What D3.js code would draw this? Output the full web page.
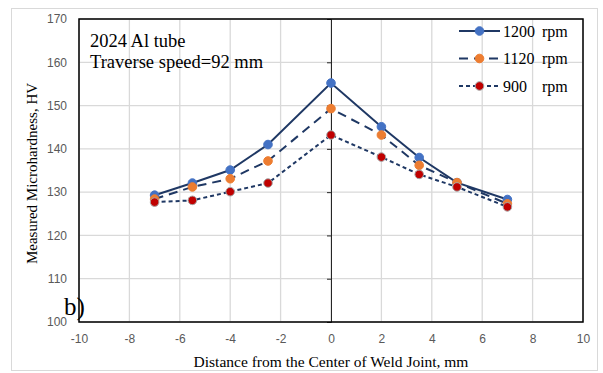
<!DOCTYPE html>
<html>
<head>
<meta charset="utf-8">
<script src="https://cdn.jsdelivr.net/npm/d3@7"></script>
<style>
  body { margin: 0; background: #fff; }
  svg { display: block; }
</style>
</head>
<body>
<svg id="chart"></svg>
<script>
'use strict';

// distance from weld centre, mm
var positions = [-7, -5.5, -4, -2.5, 0, 2, 3.5, 5, 7];

var hv1200 = [129.3, 132.1, 135.1, 141, 155.2, 145.1, 138, 132.2, 128.3];
var hv1120 = [128.4, 131.2, 133.1, 137.2, 149.3, 143.2, 136.2, 132.2, 127.3];
var hv900  = [127.7, 128.1, 130.1, 132.1, 143.2, 138.1, 134.1, 131.2, 126.6];

var speeds = ['1200', '1120', '900'];
var xTicks = [-10, -8, -6, -4, -2, 0, 2, 4, 6, 8, 10];
var yTicks = [100, 110, 120, 130, 140, 150, 160, 170];

var svgWidth = 603,
    svgHeight = 373;
var margin = { top: 19, right: 20, bottom: 51, left: 79 };
var width = svgWidth - margin.left - margin.right;
var height = svgHeight - margin.top - margin.bottom;

var serif = 'Liberation Serif, Times New Roman, serif';

var svg = d3.select('#chart')
    .attr('width', svgWidth)
    .attr('height', svgHeight);

// outer chart frame
svg.append('rect')
    .attr('x', 11.5).attr('y', 8.5)
    .attr('width', 586).attr('height', 362)
    .attr('fill', 'none')
    .attr('stroke', '#d9d9d9');

var g = svg.append('g')
    .attr('transform', 'translate(' + margin.left + ',' + margin.top + ')');

var x = d3.scaleLinear().domain([-10, 10]).range([0, width]);
var y = d3.scaleLinear().domain([100, 170]).range([height, 0]);

// grid
g.append('g')
    .selectAll('line')
    .data(xTicks)
    .join('line')
    .attr('x1', function (d) { return x(d) })
    .attr('x2', function (d) { return x(d) })
    .attr('y1', 0).attr('y2', height)
    .attr('stroke', '#d9d9d9').attr('stroke-width', 1.3);

g.append('g')
    .selectAll('line')
    .data(yTicks)
    .join('line')
    .attr('x1', 0).attr('x2', width)
    .attr('y1', function (d) { return y(d) })
    .attr('y2', function (d) { return y(d) })
    .attr('stroke', '#d9d9d9').attr('stroke-width', 1.3);

// axes with labels (plain hyphen for negatives, like the original)
var fmt = function (d) { return String(d) };
var xAxis = g.append('g')
    .attr('transform', 'translate(0,' + height + ')')
    .call(d3.axisBottom(x).tickValues(xTicks).tickSize(0).tickPadding(12).tickFormat(fmt));
var yAxis = g.append('g')
    .call(d3.axisLeft(y).tickValues(yTicks).tickSize(0).tickPadding(12).tickFormat(fmt));

[xAxis, yAxis].forEach(function (a) {
    a.select('.domain').remove();
    a.selectAll('text')
        .attr('font-family', 'Liberation Sans, Arial, sans-serif')
        .attr('font-size', 12)
        .attr('fill', '#595959');
});

// vertical axis crossing at x = 0
var mid = g.append('g')
    .attr('transform', 'translate(' + x(0) + ',0)')
    .call(d3.axisLeft(y).tickValues(yTicks).tickSize(4).tickFormat(''));
mid.select('.domain').attr('stroke', '#262626');
mid.selectAll('line').attr('stroke', '#262626');

// plot box
g.append('rect')
    .attr('x', 0).attr('y', 0)
    .attr('width', width).attr('height', height)
    .attr('fill', 'none')
    .attr('stroke', '#000')
    .attr('stroke-width', 1.5);

var series = [
    { name: speeds[0], values: hv1200, dash: null, fill: '#4472c4', stroke: '#4472c4' },
    { name: speeds[1], values: hv1120, dash: '9,6', fill: '#ed7d31', stroke: '#ed7d31' },
    { name: speeds[2], values: hv900, dash: '4,3', fill: '#c00000', stroke: '#a6a6a6' }
];

var line = d3.line()
    .x(function (d) { return x(d[0]) })
    .y(function (d) { return y(d[1]) });

series.forEach(function (s) {
    var pts = d3.zip(positions, s.values);
    g.append('path')
        .datum(pts)
        .attr('fill', 'none')
        .attr('stroke', '#1f3864')
        .attr('stroke-width', 2)
        .attr('stroke-dasharray', s.dash)
        .attr('d', line);
    g.append('g')
        .selectAll('circle')
        .data(pts)
        .join('circle')
        .attr('cx', function (d) { return x(d[0]) })
        .attr('cy', function (d) { return y(d[1]) })
        .attr('r', 4.3)
        .attr('fill', s.fill)
        .attr('stroke', s.stroke)
        .attr('stroke-width', 1);
});

// legend
var legend = svg.append('g')
    .attr('transform', 'translate(459,31)');
series.forEach(function (s, i) {
    var row = legend.append('g').attr('transform', 'translate(0,' + (i * 27.5) + ')');
    row.append('line')
        .attr('x1', 0).attr('x2', 41)
        .attr('stroke', '#1f3864')
        .attr('stroke-width', 2)
        .attr('stroke-dasharray', s.dash);
    row.append('circle')
        .attr('cx', 20.5).attr('cy', 0).attr('r', 4.3)
        .attr('fill', s.fill)
        .attr('stroke', s.stroke);
    var t = row.append('text')
        .attr('y', 5.5)
        .attr('font-family', serif)
        .attr('font-size', 16)
        .attr('fill', '#000');
    t.append('tspan').attr('x', 44).text(s.name);
    t.append('tspan').attr('x', 83).text('rpm');
});

// annotations
svg.append('text').attr('x', 90).attr('y', 47)
    .attr('font-family', serif).attr('font-size', 18.5).text('2024 Al tube');
svg.append('text').attr('x', 90).attr('y', 68)
    .attr('font-family', serif).attr('font-size', 18.5).text('Traverse speed=92 mm');
svg.append('text').attr('x', 64).attr('y', 315)
    .attr('font-family', serif).attr('font-size', 25).text('b)');

// axis titles
svg.append('text')
    .attr('x', margin.left + width / 2).attr('y', 367)
    .attr('text-anchor', 'middle')
    .attr('font-family', serif).attr('font-size', 15.5)
    .text('Distance from the Center of Weld Joint, mm');
svg.append('text')
    .attr('transform', 'translate(37,' + (margin.top + height / 2 + 3) + ') rotate(-90)')
    .attr('text-anchor', 'middle')
    .attr('font-family', serif).attr('font-size', 15)
    .text('Measured Microhardness, HV');
</script>
</body>
</html>
